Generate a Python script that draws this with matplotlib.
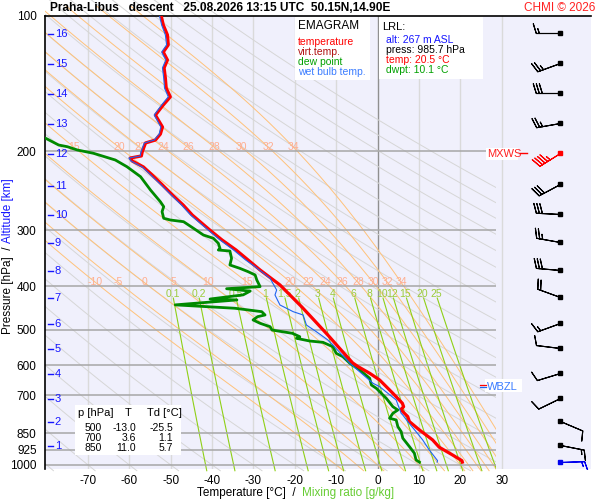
import numpy as np
import matplotlib
matplotlib.use('Agg')
import matplotlib.pyplot as plt
from matplotlib.patches import Rectangle
from matplotlib.transforms import blended_transform_factory

plt.rcParams['font.family'] = ['Liberation Sans', 'DejaVu Sans']

# --- sounding Praha-Libus, descent 25.08.2026 13:15 UTC ---
temp_p = [100, 104.7, 110.2, 116, 120.3, 125.3, 130.5, 137.4, 144.7, 151.4, 157.8, 166.2, 170.5,
          176.7, 183.2, 188.9, 191.8, 200.9, 205, 207.2, 210.4, 216.9, 226, 237.9, 250.4, 263.6,
          277.5, 300, 315.4, 332.1, 349.5, 367.9, 397.2, 444.8, 482.9, 518.7, 560.2, 592.8, 604,
          624.9, 646.8, 692.4, 728.9, 741.7, 751.7, 761, 780.3, 800.6, 835.4, 879.4, 913, 949.8,
          978.2, 985.7]
temp_t = [-52.3, -51.8, -50.8, -50.6, -51.8, -50.8, -51.6, -51.3, -51.1, -50.1, -51.8, -53.7, -53.0,
          -52.0, -52.5, -53.7, -56.1, -56.9, -57.1, -59.8, -59.3, -56.6, -54.5, -52.0, -49.6, -47.0,
          -44.8, -40.5, -37.6, -34.2, -31.3, -28.4, -23.6, -18.3, -14.7, -11.6, -8.4, -6.0, -4.7,
          -1.9, 0.5, 3.7, 6.0, 6.3, 5.7, 6.1, 7.3, 7.7, 10.1, 13.3, 14.9, 18.1,
          20.4, 20.5]

dwpt_p = [182, 187.3, 193.8, 195.5, 198.8, 202.2, 209.3, 216.6, 228, 244.1, 259.3, 265.9, 272.8,
          282.2, 284.7, 287.2, 297.1, 307.5, 312.7, 320.8, 329.2, 332.1, 333.8, 346.5, 358.6, 364.8,
          371.1, 377.4, 387.2, 400.7, 405, 410, 418, 427, 429, 440, 447.7, 455.6, 463.4, 467.4,
          475.4, 483.6, 492.1, 500.6, 509.1, 518, 522.3, 529.6, 533.2, 545.4, 564.1, 573.8, 593.7,
          614.4, 641.2, 663.5, 675, 710.4, 741.7, 754.4, 767.3, 787, 793.9, 821.5, 842.8, 871.8,
          910.2, 941.6, 974.6, 985.7]
dwpt_t = [-84.0, -80.2, -77.1, -75.0, -72.6, -68.7, -63.4, -60.6, -57.3, -54.9, -52.5, -51.7, -52.1,
          -51.7, -50.1, -46.9, -44.5, -42.1, -39.7, -38.5, -38.1, -38.5, -35.7, -35.3, -35.7, -33.3,
          -31.3, -29.6, -29.2, -28.4, -36.5, -30.8, -32.5, -40.5, -34.0, -48.9, -34.5, -28.0, -27.2, -29.0,
          -30.1, -28.4, -26.0, -25.5, -20.6, -18.8, -19.6, -16.4, -13.2, -10.8, -10.0, -8.4, -6.7,
          -4.3, -1.9, -1.5, -0.3, 2.1, 3.7, 4.9, 3.7, 2.9, 4.5, 4.9, 5.7, 6.1,
          7.7, 8.9, 9.3, 10.1]

wetb_p = [100, 104.7, 110.2, 116, 120.3, 125.3, 130.5, 137.4, 144.7, 151.4, 157.8, 166.2, 170.5,
          176.7, 183.2, 188.9, 191.8, 200.9, 205, 207.2, 210.4, 216.9, 226, 237.9, 250.4, 263.6,
          277.5, 300, 315.4, 332.1, 349.5, 361.8, 383.8, 407.6, 418.2, 440.2, 455.6, 463.4, 487.9,
          504.9, 526.9, 540.7, 593.7, 657.8, 669.3, 716.6, 767.3, 774, 800.8, 842.8, 879.4, 926.1,
          978.2, 985.7]
wetb_t = [-52.7, -52.2, -51.3, -51.0, -52.2, -51.2, -52.0, -51.7, -51.5, -50.6, -52.2, -54.0, -53.3,
          -52.4, -52.8, -54.0, -56.4, -57.2, -57.4, -60.1, -59.6, -56.9, -54.8, -52.3, -49.9, -47.4,
          -45.2, -40.9, -38.1, -34.8, -31.9, -29.6, -26.0, -24.4, -24.8, -23.6, -20.4, -18.0, -17.2,
          -14.8, -12.0, -10.8, -6.7, -1.1, 0.5, 4.5, 5.7, 6.1, 7.3, 9.3, 10.9, 12.5,
          14.5, 14.4]

# wind barbs (kt), one per km of altitude + surface
wind_p = [109.1, 127.2, 148.4, 173.1, 201.9, 236.7, 276.1, 318.7, 367.9, 422.6, 482.9, 548.9,
          624.0, 709.3, 798.0, 902.3, 984.7]
wind_dir = [270, 250, 270, 260, 238, 242, 273, 280, 275, 290, 250, 277, 253, 244, 113, 101, 88]
wind_spd = [15, 25, 30, 25, 45, 30, 30, 25, 30, 20, 15, 10, 10, 10, 10, 15, 15]
mxws_idx = 4

alt_km = [16, 15, 14, 13, 12, 11, 10, 9, 8, 7, 6, 5, 4, 3, 2, 1]
alt_p = [109.8, 128.1, 149.4, 174.2, 202.9, 238.8, 277.9, 320.8, 369.8, 424.1, 486.1, 552.6,
         628.1, 714.0, 803.4, 905.6]
wbzl_p = 667

# background lines
isobars = [200, 300, 400, 500, 600, 700, 850, 925, 1000]
p_ticks = [100, 200, 300, 400, 500, 600, 700, 850, 925, 1000]
t_ticks = [-70, -60, -50, -40, -30, -20, -10, 0, 10, 20, 30]
theta_dry = list(range(-80, 190, 10))
theta_w = [-10, -5, 0, 5, 10, 15, 20, 22, 24, 26, 28, 30, 32, 34]
theta_w_lab200 = [15, 20, 22, 24, 26, 28, 30, 32, 34]
mix_ratios = [0.1, 0.2, 0.5, 1, 1.5, 2, 3, 4, 6, 8, 10, 12, 15, 20, 25]

table_rows = [('500', '-13.0', '-25.5'), ('700', '3.6', '1.1'), ('850', '11.0', '5.7')]

XMIN, XMAX, XCUT = -80.4, 51.6, 28.7
PMAX, PMIN = 1021, 100


def esat(tc):
    return 6.112 * np.exp(17.67 * tc / (tc + 243.5))


def dtdp(p, t):
    es = esat(t - 273.15)
    rs = 0.622 * es / (p - es)
    num = 287.04 * t + 2.501e6 * rs
    den = 1005.7 + 2.501e6 ** 2 * rs * 0.622 / (287.04 * t * t)
    return num / (den * p)


def pseudo(tw):
    out = {}
    for pend in (95.0, 1030.0):
        t = tw + 273.15
        p = 1000.0
        dp = -1.0 if pend < p else 1.0
        pts = [(p, t)]
        while (p - pend) * dp < 0:
            k1 = dtdp(p, t)
            k2 = dtdp(p + dp / 2, t + dp / 2 * k1)
            k3 = dtdp(p + dp / 2, t + dp / 2 * k2)
            k4 = dtdp(p + dp, t + dp * k3)
            t += dp * (k1 + 2 * k2 + 2 * k3 + k4) / 6
            p += dp
            pts.append((p, t))
        out[pend] = pts
    pts = out[1030.0][::-1] + out[95.0][1:]
    pp = np.array([a for a, b in pts])
    tt = np.array([b for a, b in pts]) - 273.15
    return pp, tt


def mix_t(w, p):
    e = w * p / (622.0 + w)
    l = np.log(e / 6.112)
    return 243.5 * l / (17.67 - l)


fig = plt.figure(figsize=(6, 5), dpi=100)
ax = fig.add_axes([45 / 600, 1 - 469 / 500, 546 / 600, 453 / 500])
ax.set_facecolor('#f0f0fc')
ax.set_yscale('log')
ax.set_xlim(XMIN, XMAX)
ax.set_ylim(PMAX, PMIN)

clip = Rectangle((XMIN, 90), XCUT - XMIN, 1000, transform=ax.transData, fill=False, visible=False)
ax.add_patch(clip)

# isotherms
for t in t_ticks:
    ax.axvline(t, color='#909090' if t == 0 else '#dadada', lw=1.0, zorder=1)
ax.hlines(isobars, XMIN, XCUT, color='#a6a6a6', lw=1.1, zorder=2)

# dry adiabats
pp = np.geomspace(90, 1030, 200)
for th in theta_dry:
    tt = (th + 273.15) * (pp / 1000.0) ** 0.2857 - 273.15
    ln, = ax.plot(tt, pp, color='#d6d6d6', lw=0.7, zorder=1.5)
    ln.set_clip_path(clip)

# pseudo adiabats
for tw in theta_w:
    mp, mt = pseudo(tw)
    ln, = ax.plot(mt, mp, color='#ffc27a', lw=0.7, zorder=1.6)
    ln.set_clip_path(clip)
    t400 = np.interp(392, mp[::-1], mt[::-1])
    ax.text(t400, 392, str(tw), color='#ffae90', fontsize=7.5, ha='center', va='center', zorder=3)
    if tw in theta_w_lab200:
        t200 = np.interp(196, mp[::-1], mt[::-1])
        ax.text(t200, 196, str(tw), color='#ffae90', fontsize=7.5, ha='center', va='center', zorder=3)

# mixing ratio lines
pm = np.geomspace(425, 1030, 60)
for w in mix_ratios:
    ln, = ax.plot(mix_t(w, pm), pm, color='#8fd016', lw=0.8, zorder=1.7)
    ln.set_clip_path(clip)
    ax.text(mix_t(w, 417), 417, '%g' % w, color='#9ccc3c', fontsize=7.5, ha='center', va='center', zorder=3)

# profiles
ax.plot(dwpt_t, dwpt_p, color='#008a00', lw=2.0, zorder=4, solid_joinstyle='round')
ax.plot(temp_t, temp_p, color='#ff0000', lw=2.3, zorder=4.2, solid_joinstyle='round')
ax.plot(wetb_t, wetb_p, color='#1e64f0', lw=0.8, zorder=4.4)

# altitude marks
bt = blended_transform_factory(ax.transAxes, ax.transData)
for km, p in zip(alt_km, alt_p):
    ax.plot([0.006, 0.015], [p, p], color='#1515ff', lw=1.0, transform=bt, zorder=5)
    ax.text(0.018, p, str(km), color='#1515ff', fontsize=8, ha='left', va='center', transform=bt, zorder=5)

# wind barbs
d = np.radians(wind_dir)
u = -np.array(wind_spd) * np.sin(d)
v = -np.array(wind_spd) * np.cos(d)
xb = np.full(len(wind_p), 44.1)
cols = ['black'] * len(wind_p)
cols[mxws_idx] = 'red'
cols[-1] = '#0000ee'
for i in range(len(wind_p)):
    ax.barbs(xb[i], wind_p[i], u[i], v[i], length=5.9, color=cols[i], linewidth=0.8, zorder=6)
    ax.plot(xb[i], wind_p[i], 's', color=cols[i], ms=2.5, zorder=7)

# spines and ticks
for s in ['right', 'bottom']:
    ax.spines[s].set_visible(False)
ax.spines['left'].set_linewidth(1.2)
ax.spines['top'].set_linewidth(1.2)
ax.set_yticks(p_ticks)
ax.set_yticklabels([str(p) for p in p_ticks])
ax.yaxis.set_minor_locator(matplotlib.ticker.NullLocator())
ax.set_xticks(t_ticks)
ax.set_xticklabels([str(t) for t in t_ticks])
ax.tick_params(length=0, labelsize=8.5, pad=4)
ax.tick_params(axis='y', pad=6)


def fx(x):
    return x / 600


def fy(y):
    return 1 - y / 500


def box(x0, y0, x1, y1):
    ax.add_patch(Rectangle((fx(x0), fy(y1)), fx(x1) - fx(x0), fy(y0) - fy(y1), transform=fig.transFigure,
                           facecolor='white', edgecolor='none', zorder=8, clip_on=False))


def label(x, y, s, c='black', size=7.5, ha='left', **kw):
    ax.text(fx(x), fy(y), s, color=c, fontsize=size, ha=ha, va='center', transform=fig.transFigure,
            zorder=9, clip_on=False, **kw)


# legend
box(295, 17, 370, 80)
label(298, 26, 'EMAGRAM', size=8.5)
label(298, 42, 'temperature', '#ff0000')
label(298, 52, 'virt.temp.', '#b01010')
label(298, 62, 'dew point', '#00a000')
label(298, 72, 'wet bulb temp.', '#3a7cff')

# lowest radiosonde level
box(379, 17, 483, 79)
label(382, 27, 'LRL:', size=8)
label(386, 40, 'alt: 267 m ASL', '#1515ff')
label(386, 50, 'press: 985.7 hPa')
label(386, 60, 'temp: 20.5 °C', '#ff0000')
label(386, 70, 'dwpt: 10.1 °C', '#00a000')

# table
box(75, 405, 181, 455)
label(78, 413, 'p [hPa]', size=8)
label(128, 413, 'T', size=8, ha='center')
label(147, 413, 'Td [°C]', size=8)
for i, (p, t, td) in enumerate(table_rows):
    yy = 428 + 10 * i
    label(101.7, yy, p, ha='right')
    label(136, yy, t, ha='right')
    label(173.3, yy, td, ha='right')

# WBZL and MXWS marks
box(485, 379, 522, 392)
ax.plot([0.797, 0.807], [wbzl_p * 0.993, wbzl_p * 0.993], color='red', lw=0.9, transform=bt, zorder=9)
ax.plot([0.797, 0.807], [wbzl_p * 1.003, wbzl_p * 1.003], color='#1e64f0', lw=0.9, transform=bt, zorder=9)
label(487, 387, 'WBZL', '#3a7cff', size=8)
box(486, 148, 518, 160)
label(487, 154, 'MXWS', '#ff2020', size=8)
ax.plot([0.87, 0.883], [wind_p[mxws_idx], wind_p[mxws_idx]], color='red', lw=1.0, transform=bt, zorder=9)

# titles
fig.text(fx(50), fy(8), 'Praha-Libus   descent   25.08.2026 13:15 UTC  50.15N,14.90E',
         fontsize=8.6, fontweight='bold', va='center', ha='left')
fig.text(fx(595), fy(8), 'CHMI © 2026', fontsize=8.5, color='#ff2020', va='center', ha='right')
fig.text(fx(197), fy(493), 'Temperature [°C]  /', fontsize=8.5, va='center', ha='left')
fig.text(fx(302), fy(493), 'Mixing ratio [g/kg]', fontsize=8.5, color='#66cc33', va='center', ha='left')
fig.text(fx(8), fy(247), 'Pressure [hPa]  /', fontsize=8.5, rotation=90, ha='center', va='top')
fig.text(fx(8), fy(243), 'Altitude [km]', fontsize=8.5, rotation=90, ha='center', va='bottom', color='#1515ff')

fig.savefig('out.png', dpi=100)
